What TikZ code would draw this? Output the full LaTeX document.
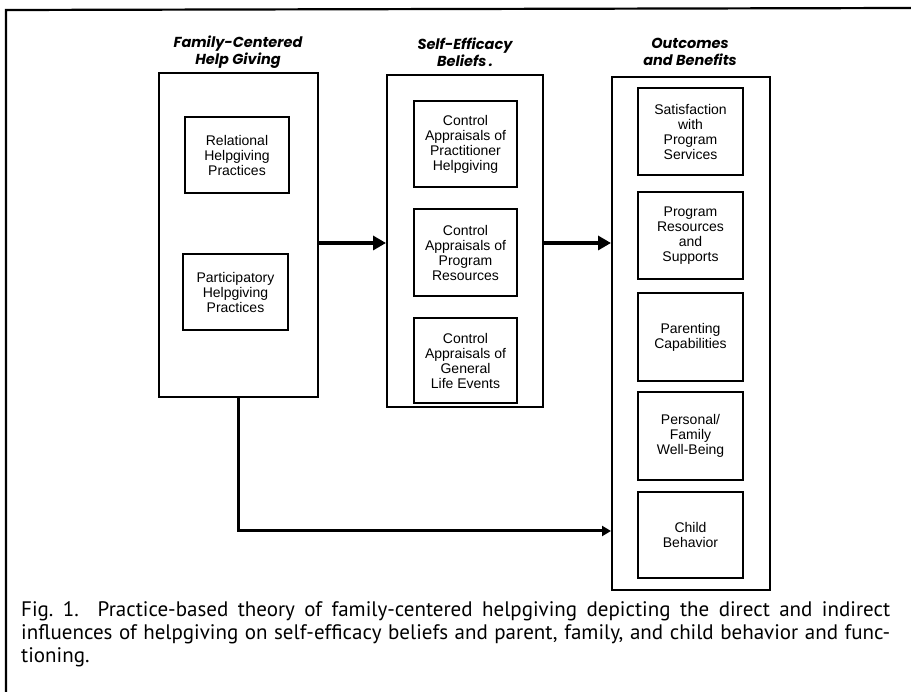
\documentclass[tikz,border=0pt]{standalone}
\usepackage{fontspec}
\setmainfont{Liberation Sans}
\newfontfamily\headfont{Poppins}
\newfontfamily\capfont{PT Sans}
\usetikzlibrary{arrows.meta}
\tikzset{
  outerbox/.style={draw, line width=2pt, minimum width=#1, inner sep=0pt},
  innerbox/.style={draw, line width=1.8pt, inner sep=0pt, align=center,
    font=\fontsize{14}{15}\selectfont},
  header/.style={align=center, font=\headfont\bfseries\itshape\fontsize{14.5}{17}\selectfont},
  mainarrow/.style={line width=4.5pt, -{Triangle[length=13pt,width=14pt]}},
  sidearrow/.style={line width=3pt, -{Triangle[length=9pt,width=10pt]}},
  frameline/.style={line width=2.2pt},
}
\begin{document}
\begin{tikzpicture}[x=1pt,y=-1pt]
\useasboundingbox (0,0) rectangle (911,692);
% frame
\coordinate (ftr) at (911,8);
\coordinate (ftl) at (6,10);
\coordinate (fbl) at (6,692);
\draw[frameline] (ftr) -- (ftl) -- (fbl);
% headers
\node[header] (h1) at (238,52) {Family-Centered\\Help Giving};
\node[header] (h2) at (465,52) {Self-Efficacy\\Beliefs\,.};
\node[header] (h3) at (690,52) {Outcomes\\and Benefits};
% outer boxes
\node[outerbox=159pt, minimum height=324pt] (L) at (238.5,235) {};
\node[outerbox=156pt, minimum height=332pt] (M) at (465,241) {};
\node[outerbox=158pt, minimum height=513pt] (R) at (691,333.5) {};
% left inner
\node[innerbox, minimum width=104pt, minimum height=76pt] (rel) at (237,155) {Relational\\Helpgiving\\Practices};
\node[innerbox, minimum width=105pt, minimum height=76pt] (par) at (235.5,292) {Participatory\\Helpgiving\\Practices};
% middle inner
\node[innerbox, minimum width=103pt, minimum height=86pt] (m1) at (465.5,144) {Control\\Appraisals of\\Practitioner\\Helpgiving};
\node[innerbox, minimum width=103pt, minimum height=87pt] (m2) at (465.5,252.5) {Control\\Appraisals of\\Program\\Resources};
\node[innerbox, minimum width=103pt, minimum height=85pt] (m3) at (465.5,360.5) {Control\\Appraisals of\\General\\Life Events};
% right inner
\node[innerbox, minimum width=105pt, minimum height=87pt] (r1) at (690.5,131.5) {Satisfaction\\with\\Program\\Services};
\node[innerbox, minimum width=105pt, minimum height=87pt] (r2) at (690.5,235.5) {Program\\Resources\\and\\Supports};
\node[innerbox, minimum width=105pt, minimum height=88pt] (r3) at (690.5,337) {Parenting\\Capabilities};
\node[innerbox, minimum width=105pt, minimum height=88pt] (r4) at (690.5,436) {Personal/\\Family\\Well-Being};
\node[innerbox, minimum width=105pt, minimum height=86pt] (r5) at (690.5,535) {Child\\Behavior};
% connectors
\coordinate (ay) at (0,243);
\draw[mainarrow] (L.east |- ay) -- (M.west |- ay);
\draw[mainarrow] (M.east |- ay) -- (R.west |- ay);
\coordinate (bend) at (238,531);
\draw[sidearrow] (L.south -| bend) -- (bend) -- (R.west |- bend);
% caption
\node[anchor=north west, inner sep=0pt, text width=869pt, align=justify,
  font=\capfont\fontsize{21}{23}\selectfont] (cap) at (21,601)
  {Fig.~1.\ \ Practice-based theory of family-centered helpgiving depicting the direct and indirect\linebreak
   influences of helpgiving on self-efficacy beliefs and parent, family, and child behavior and func-\linebreak
   tioning.};
\end{tikzpicture}
\end{document}
